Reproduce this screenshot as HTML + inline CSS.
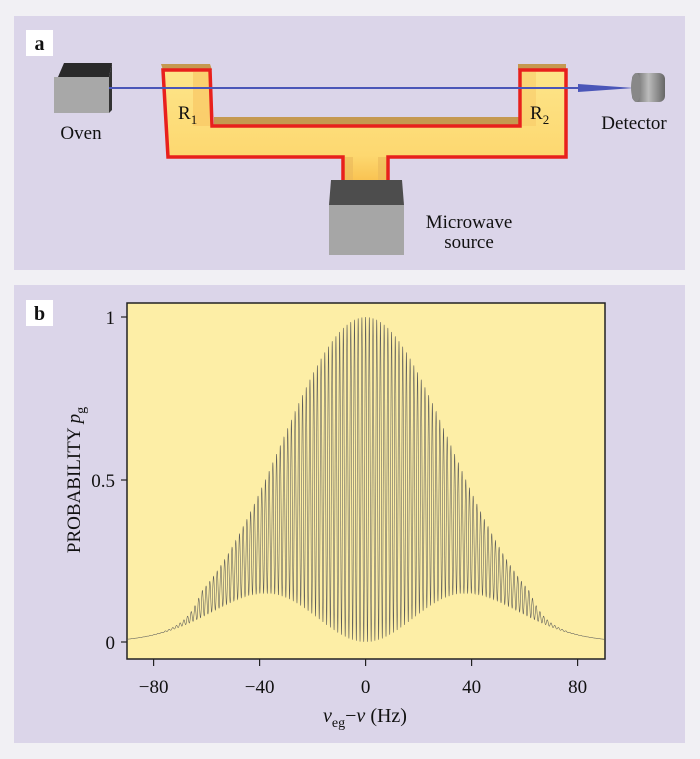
<!DOCTYPE html>
<html><head><meta charset="utf-8"><style>
html,body{margin:0;padding:0;background:#f1f0f4;}
svg{display:block;font-family:"Liberation Serif",serif;}
</style></head><body>
<svg width="700" height="759" viewBox="0 0 700 759" xmlns="http://www.w3.org/2000/svg">
<defs>
<linearGradient id="cav" x1="0" y1="0" x2="0" y2="1">
<stop offset="0" stop-color="#fde58a"/><stop offset="0.7" stop-color="#fdd870"/><stop offset="1" stop-color="#f7b944"/>
</linearGradient>
<linearGradient id="det" x1="0" y1="0" x2="1" y2="0">
<stop offset="0" stop-color="#555"/><stop offset="0.5" stop-color="#bbb"/><stop offset="1" stop-color="#666"/>
</linearGradient>
</defs>
<rect x="14" y="16" width="671" height="254" fill="#dbd5e9"/>
<rect x="14" y="285" width="671" height="458" fill="#dbd5e9"/>
<rect x="26" y="30" width="27" height="26" fill="#fff"/>
<text x="39.5" y="50" font-size="20" font-weight="bold" text-anchor="middle" fill="#111">a</text>
<polygon points="58,77 64,63 112,63 109,77" fill="#2a2a2a"/>
<polygon points="109,77 112,63 112,110 109,113" fill="#333"/>
<rect x="54" y="77" width="55" height="36" fill="#a8a8a8"/>
<polygon points="161,64 210,64 212,70 163,70" fill="#c59950"/>
<polygon points="518,64 566,64 566,70 518,70" fill="#c59950"/>
<rect x="214" y="117" width="306" height="9" fill="#c59950"/>
<path d="M163,70 L210,70 L212,126 L520,126 L520,70 L566,70 L566,157 L388,157 L388,192 L343,192 L343,157 L168,157 Z" fill="url(#cav)"/>
<rect x="193" y="72" width="17" height="54" fill="#f8c865" opacity="0.7"/>
<rect x="522" y="72" width="14" height="54" fill="#f8c865" opacity="0.5"/>
<rect x="345" y="157" width="8" height="35" fill="#e9b85a" opacity="0.6"/>
<rect x="378" y="157" width="8" height="35" fill="#e9b85a" opacity="0.6"/>
<path d="M343,192 L343,157 L168,157 L163,70 L210,70 L212,126 L520,126 L520,70 L566,70 L566,157 L388,157 L388,192" fill="none" stroke="#e8201c" stroke-width="3.5" stroke-linejoin="miter"/>
<polygon points="331,180 402,180 404,205 329,205" fill="#4d4d4d"/>
<rect x="329" y="205" width="75" height="50" fill="#a6a6a6"/>
<line x1="109" y1="88" x2="590" y2="88" stroke="#4a56b8" stroke-width="2"/>
<polygon points="578,84 634,88 578,92" fill="#4a56b8"/>
<rect x="632" y="73" width="33" height="29" rx="6" fill="url(#det)"/>
<ellipse cx="636" cy="87.5" rx="5" ry="14.5" fill="#888"/>
<text x="81" y="139" font-size="19" text-anchor="middle" fill="#111">Oven</text>
<text x="178" y="119" font-size="19" fill="#111">R<tspan font-size="13" dy="5">1</tspan></text>
<text x="530" y="119" font-size="19" fill="#111">R<tspan font-size="13" dy="5">2</tspan></text>
<text x="634" y="129" font-size="19" text-anchor="middle" fill="#111">Detector</text>
<text x="469" y="228" font-size="19" text-anchor="middle" fill="#111">Microwave</text>
<text x="469" y="248" font-size="19" text-anchor="middle" fill="#111">source</text>
<rect x="26" y="300" width="27" height="26" fill="#fff"/>
<text x="39.5" y="320" font-size="20" font-weight="bold" text-anchor="middle" fill="#111">b</text>
<rect x="127" y="303" width="478" height="356" fill="#fdeea6" stroke="#222" stroke-width="1.5"/>
<g stroke="#222" stroke-width="1.2">
<line x1="121" y1="317" x2="127" y2="317"/><line x1="121" y1="480" x2="127" y2="480"/><line x1="121" y1="642" x2="127" y2="642"/>
<line x1="153.6" y1="659" x2="153.6" y2="666"/><line x1="259.6" y1="659" x2="259.6" y2="666"/><line x1="365.6" y1="659" x2="365.6" y2="666"/><line x1="471.6" y1="659" x2="471.6" y2="666"/><line x1="577.6" y1="659" x2="577.6" y2="666"/>
</g>
<g font-size="19" fill="#111" text-anchor="end">
<text x="115" y="324">1</text><text x="115" y="487">0.5</text><text x="115" y="649">0</text>
</g>
<g font-size="19" fill="#111" text-anchor="middle">
<text x="153.6" y="693">−80</text><text x="259.6" y="693">−40</text><text x="365.6" y="693">0</text><text x="471.6" y="693">40</text><text x="577.6" y="693">80</text>
</g>
<text x="365" y="722" font-size="20" text-anchor="middle" fill="#111"><tspan font-style="italic">ν</tspan><tspan font-size="14" dy="5">eg</tspan><tspan dy="-5">−</tspan><tspan font-style="italic">ν</tspan> (Hz)</text>
<text transform="translate(80,480) rotate(-90)" font-size="19" text-anchor="middle" fill="#111">PROBABILITY <tspan font-style="italic">p</tspan><tspan font-size="14" dy="5">g</tspan></text>
<path id="curve" fill="none" stroke="#5a5a5a" stroke-width="0.55"/>
</svg>
<script>
(function(){
var d="",first=true;
for(var i=0;i<=6000;i++){
var f=-90+180*i/6000;
var U=Math.exp(-(f/45.4)*(f/45.4));
var q=(f/38)*(f/38);
var L=0.15*q*Math.exp(1-q);
if(L>U)L=U;
var t=Math.abs(f)>62?Math.exp(-(Math.abs(f)-62)/6):1;
var Ue=L+(U-L)*t;
var p=L+(Ue-L)*(1+Math.cos(2*Math.PI*f/1.4))/2;
var x=365.6+f*2.65, y=642-p*325;
if(x<127||x>605)continue;
d+=(first?"M":"L")+x.toFixed(2)+","+y.toFixed(2);first=false;
}
document.getElementById("curve").setAttribute("d",d);
})();
</script>
</body></html>
